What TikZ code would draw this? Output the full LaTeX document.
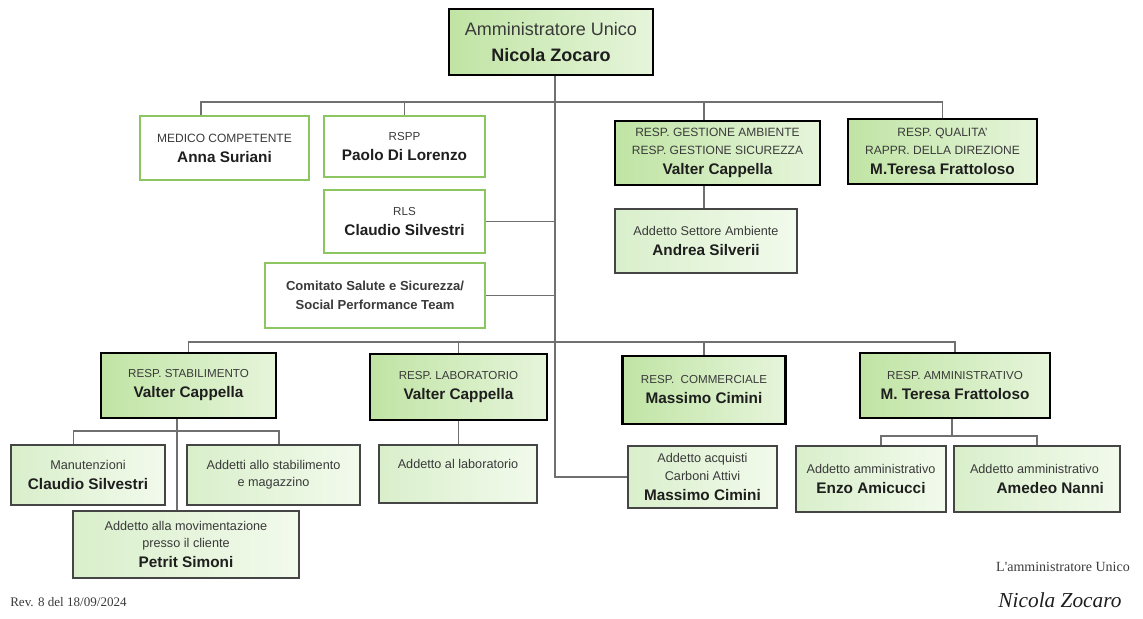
\documentclass[tikz,border=0pt]{standalone}
\usepackage{fontspec}
\setmainfont{Liberation Sans}
\newfontfamily\tmsfont{Liberation Serif}
\definecolor{gD}{HTML}{C0E4A4}
\definecolor{gL}{HTML}{E6F5DB}
\definecolor{sD}{HTML}{D9EFCB}
\definecolor{sL}{HTML}{F2FAEC}
\definecolor{gB}{HTML}{8CC660}
\definecolor{subB}{HTML}{454545}
\definecolor{lnk}{HTML}{707070}
\definecolor{txt}{HTML}{1E1E1E}
\definecolor{ttlc}{HTML}{3A3A3A}
\newcommand\ttlA[1]{{\fontsize{8.7}{10}\selectfont\color{ttlc}#1}}
\newcommand\ttlB[1]{{\fontsize{9}{10}\selectfont\color{ttlc}#1}}
\newcommand\sbl[1]{{\fontsize{9.5}{11}\selectfont\color{ttlc}#1}}
\newcommand\nme[1]{{\fontsize{11.5}{13}\selectfont\bfseries #1}}
\newcommand\cmt[1]{{\fontsize{9.8}{11}\selectfont\bfseries\color{ttlc}#1}}
\tikzset{
  wh/.style 2 args={minimum width=#1*0.75pt, minimum height=#2*0.75pt},
  base/.style={rectangle, align=center, inner sep=0pt, text=txt, font=\fontsize{9}{15}\selectfont},
  three/.style={font=\fontsize{9}{13}\selectfont},
  headbox/.style={base, draw=black, line width=2.2pt, left color=gD, right color=gL},
  staffbox/.style={base, draw=gB, line width=1.6pt, fill=white},
  subbox/.style={base, draw=subB, line width=1pt, left color=sD, right color=sL},
  link/.style={draw=lnk, line width=0.8pt},
}
\begin{document}
\begin{tikzpicture}[x=0.75pt,y=-0.75pt]
\useasboundingbox (0,0) rectangle (1143,618);

% top
\node[headbox, wh={204}{66}, font=\fontsize{13.5}{19}\selectfont] (top) at (551,42)
  {{\color{ttlc}Amministratore Unico}\\\textbf{Nicola Zocaro}};

% staff row
\node[staffbox, wh={169}{64}] (medico) at (224.5,148) {\ttlB{MEDICO COMPETENTE}\\\nme{Anna Suriani}};
\node[staffbox, wh={161}{61}] (rspp) at (404.5,146.5) {\ttlA{RSPP}\\\nme{Paolo Di Lorenzo}};
\node[staffbox, wh={161}{63}] (rls) at (404.5,221.5) {\ttlA{RLS}\\\nme{Claudio Silvestri}};
\node[staffbox, wh={220}{65}, font=\fontsize{9}{14}\selectfont] (comitato) at (375,295.5) {\cmt{Comitato Salute e Sicurezza/}\\\cmt{Social Performance Team}};
\node[headbox, three, wh={205}{64}] (gest) at (717.5,153) {\ttlB{RESP. GESTIONE AMBIENTE}\\\ttlB{RESP. GESTIONE SICUREZZA}\\[2pt]\nme{Valter Cappella}};
\node[headbox, three, wh={189}{65}] (qual) at (942.5,151.5) {\ttlB{RESP. QUALITA'}\\\ttlB{RAPPR. DELLA DIREZIONE}\\[2pt]\nme{M.Teresa Frattoloso}};
\node[subbox, wh={182}{64}] (sett) at (706,241) {\sbl{Addetto Settore Ambiente}\\\nme{Andrea Silverii}};

% lower heads
\node[headbox, wh={175}{65}] (stab) at (188.5,385.5) {\ttlA{RESP. STABILIMENTO}\\\nme{Valter Cappella}};
\node[headbox, wh={177}{66}] (lab) at (458.5,387) {\ttlA{RESP. LABORATORIO}\\\nme{Valter Cappella}};
\node[headbox, wh={163}{68}] (comm) at (704,390) {\ttlA{RESP.\ \ COMMERCIALE}\\\nme{Massimo Cimini}};
\node[headbox, wh={190}{65}] (amm) at (955,385.5) {\ttlA{RESP. AMMINISTRATIVO}\\\nme{M. Teresa Frattoloso}};

% lower subs
\node[subbox, wh={154}{60}] (manut) at (88,475) {\sbl{Manutenzioni}\\\nme{Claudio Silvestri}};
\node[subbox, wh={173}{60}, font=\fontsize{9}{13}\selectfont] (addetti) at (273.5,475) {\sbl{Addetti allo stabilimento}\\\sbl{e magazzino}};
\node[subbox, three, wh={226}{67}] (petrit) at (186,544.5) {\sbl{Addetto alla movimentazione}\\\sbl{presso il cliente}\\[2pt]\nme{Petrit Simoni}};
\node[subbox, wh={158}{58}] (addlab) at (458,474) {\sbl{Addetto al laboratorio}\\\mbox{}};
\node[subbox, three, wh={149}{62}] (acq) at (702.5,477) {\sbl{Addetto acquisti}\\\sbl{Carboni Attivi}\\[2pt]\nme{Massimo Cimini}};
\node[subbox, wh={150}{66}] (enzo) at (871,479) {\sbl{Addetto amministrativo}\\\nme{Enzo Amicucci}};
\node[subbox, wh={166}{66}, align=left] (amedeo) at (1037,479) {\sbl{Addetto amministrativo}\\\hspace*{20pt}\nme{Amedeo Nanni}};

% connectors
\coordinate (vx) at (555,0);
\draw[link] (vx |- top.south) |- (acq.west);
\coordinate (m1) at (201,102);
\draw[link] (m1 |- medico.north) -- (m1) -- (qual.north |- m1) -- (qual.north);
\draw[link] (rspp.north) -- (rspp.north |- m1);
\coordinate (g1) at (704,0);
\draw[link] (g1 |- gest.north) -- (g1 |- m1);
\draw[link] (g1 |- gest.south) -- (g1 |- sett.north);
\draw[link] (rls.east) -- (rls.east -| vx);
\draw[link] (comitato.east) -- (comitato.east -| vx);

\coordinate (lb) at (0,342);
\draw[link] (stab.north) -- (stab.north |- lb) -- (amm.north |- lb) -- (amm.north);
\draw[link] (lab.north) -- (lab.north |- lb);
\draw[link] (comm.north) -- (comm.north |- lb);

\coordinate (s1) at (177,431);
\coordinate (s0) at (73.5,431);
\coordinate (s2) at (279,431);
\draw[link] (s1 |- stab.south) -- (s1 |- petrit.north);
\draw[link] (s0 |- manut.north) -- (s0) -- (s2) -- (s2 |- addetti.north);
\draw[link] (lab.south) -- (lab.south |- addlab.north);

\coordinate (a1) at (952,436);
\coordinate (a0) at (881,436);
\draw[link] (a1 |- amm.south) -- (a1);
\draw[link] (a0 |- enzo.north) -- (a0) -- (amedeo.north |- a0) -- (amedeo.north);

% footer
\node[anchor=west, inner sep=0pt, font=\tmsfont\fontsize{9.8}{11}\selectfont, text=ttlc] (rev) at (10,602) {Rev. 8 del 18/09/2024};
\node[inner sep=0pt, font=\tmsfont\fontsize{10.5}{12}\selectfont, text=ttlc] (firmat) at (1063,567) {L'amministratore Unico};
\node[inner sep=0pt, font=\tmsfont\itshape\fontsize{16}{18}\selectfont, text=txt] (firma) at (1060,600) {Nicola Zocaro};
\end{tikzpicture}
\end{document}
